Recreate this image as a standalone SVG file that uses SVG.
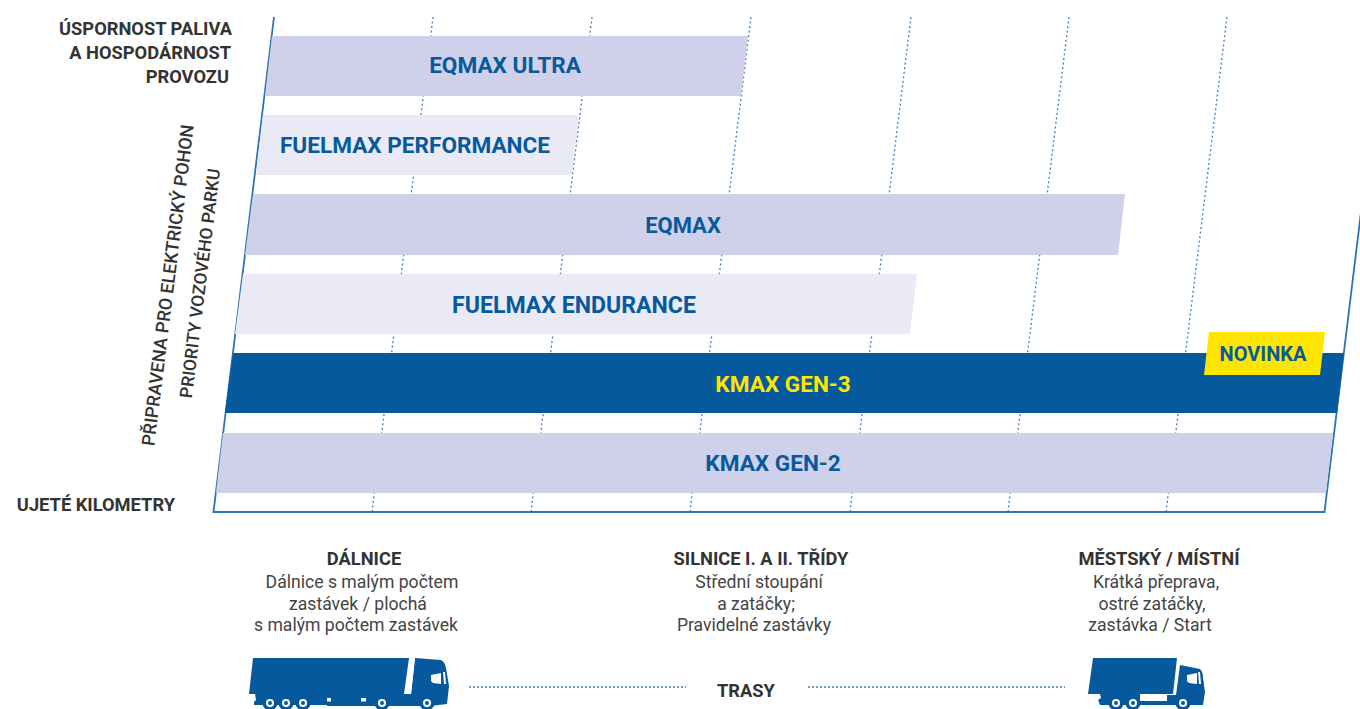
<svg xmlns="http://www.w3.org/2000/svg" width="1360" height="709" viewBox="0 0 1360 709">
<defs>
<g id="wheel"><circle r="7.500" fill="#07599d"/><circle r="4" fill="#fff"/><circle r="2" fill="#07599d"/></g>
</defs>
<style>
text{font-family:Roboto,"Liberation Sans",sans-serif}
.b{font-weight:700;font-size:22.600px;fill:#07599d;text-anchor:middle}
.h{font-weight:700;font-size:18.300px;fill:#333;text-anchor:middle}
.r{font-weight:700;font-size:18.300px;fill:#333;text-anchor:end}
.d{font-size:17.600px;fill:#444;text-anchor:middle}
.v{font-size:18.100px;font-weight:500;fill:#333;text-anchor:middle}
.g{stroke:#3f7fb5;stroke-width:1.300;stroke-dasharray:2 2.600;fill:none}
.a{stroke:#2f74ae;stroke-width:1.800;fill:none}
.dk{fill:#cfd1ea}.lt{fill:#e9eaf5}
.t{fill:#07599d}
</style>
<g id="grid">
<path class="g" d="M372 512L433 17M531 512L592 17M690 512L751 17M850 512L911 17M1008 512L1069 17M1166 512L1227 17"/>
</g>
<g id="axes"><path class="a" d="M274 17L213.500 512H1324.500L1361 212"/></g>
<g id="eqmax-ultra"><path class="dk" d="M272 36H748L741 96H265Z"/><text class="b" x="505" y="73">EQMAX ULTRA</text></g>
<g id="fuelmax-performance"><path class="lt" d="M263 115H579L572 175H256Z"/><text class="b" x="415" y="153">FUELMAX PERFORMANCE</text></g>
<g id="eqmax"><path class="dk" d="M253 194H1125L1118 255H245Z"/><text class="b" x="683" y="233" style="font-size:22px">EQMAX</text></g>
<g id="fuelmax-endurance"><path class="lt" d="M243 274H917L910 334H235Z"/><text class="b" x="574" y="313" style="font-size:23.100px">FUELMAX ENDURANCE</text></g>
<g id="kmax-gen-3"><path class="t" d="M233 353H1344L1337 413H225Z"/><text class="b" x="783" y="392" style="fill:#ffe600">KMAX GEN-3</text></g>
<g id="novinka"><path fill="#ffe600" d="M1209 332H1325L1320 375H1204Z"/><text class="b" x="1263" y="360.500" style="font-size:20px">NOVINKA</text></g>
<g id="kmax-gen-2"><path class="dk" d="M223 433H1333L1326 493H216Z"/><text class="b" x="773" y="471">KMAX GEN-2</text></g>
<g id="axis-labels">
<text class="r" x="232" y="34.500">ÚSPORNOST PALIVA</text>
<text class="r" x="231" y="58.500">A HOSPODÁRNOST</text>
<text class="r" x="229" y="82.500">PROVOZU</text>
<text class="r" x="175" y="511">UJETÉ KILOMETRY</text>
<text class="v" transform="translate(174 286) rotate(-82.950)">PŘIPRAVENA PRO ELEKTRICKÝ POHON</text>
<text class="v" transform="translate(206 284) rotate(-82.950)" style="font-size:17.500px">PRIORITY VOZOVÉHO PARKU</text>
</g>
<g id="route-highway"><text class="h" x="364" y="565">DÁLNICE</text><text class="d" x="362" y="588">Dálnice s malým počtem</text><text class="d" x="358" y="610">zastávek / plochá</text><text class="d" x="356" y="631">s malým počtem zastávek</text></g>
<g id="route-road"><text class="h" x="761" y="565">SILNICE I. A II. TŘÍDY</text><text class="d" x="759" y="588">Střední stoupání</text><text class="d" x="756" y="610">a zatáčky;</text><text class="d" x="754" y="631">Pravidelné zastávky</text></g>
<g id="route-city"><text class="h" x="1159" y="565">MĚSTSKÝ / MÍSTNÍ</text><text class="d" x="1156" y="588">Krátká přeprava,</text><text class="d" x="1152" y="610">ostré zatáčky,</text><text class="d" x="1150" y="631">zastávka / Start</text></g>
<g id="truck-long">
<path class="t" d="M253 658H409L404 694H249Z"/>
<path class="t" d="M415 658L441 660Q445 662 446 668L449 686L447 704L430 706H327V694H411Z"/>
<path class="t" d="M255 693H328V705H254V702L256 700Z"/>
<path fill="#fff" d="M327 698H331V701.500H327ZM361 698H366V701.500H361Z"/>
<path fill="#fff" d="M405 694L409.500 658H415L411 694Z"/>
<path fill="#fff" d="M431 675L441 673V684L433 683L431 681Z"/><path fill="#fff" d="M443 672H445L446 684H444Z"/>
<use href="#wheel" x="270" y="703"/><use href="#wheel" x="286" y="703"/><use href="#wheel" x="303" y="703"/><use href="#wheel" x="382" y="703"/><use href="#wheel" x="427" y="703"/>
</g>
<g id="truck-short">
<path class="t" d="M1093 658H1177L1173 694H1088Z"/>
<path class="t" d="M1100 694H1140V701H1167V695H1176L1180 665L1200 669Q1203 672 1203 678L1205 692L1203 705H1100L1098 700L1101 698Z"/>
<path fill="#fff" d="M1143 695H1167V700H1143Z"/>
<path fill="#fff" d="M1187 675L1197 673V684L1189 683L1187 681Z"/><path fill="#fff" d="M1198 672H1200L1201 684H1199Z"/>
<use href="#wheel" x="1116" y="703"/><use href="#wheel" x="1133" y="703"/><use href="#wheel" x="1183" y="703"/>
</g>
<g id="trasy"><path class="g" d="M469 687H686M808 687H1065" style="stroke-dasharray:2 2"/><text class="h" x="746" y="697">TRASY</text></g>
</svg>
